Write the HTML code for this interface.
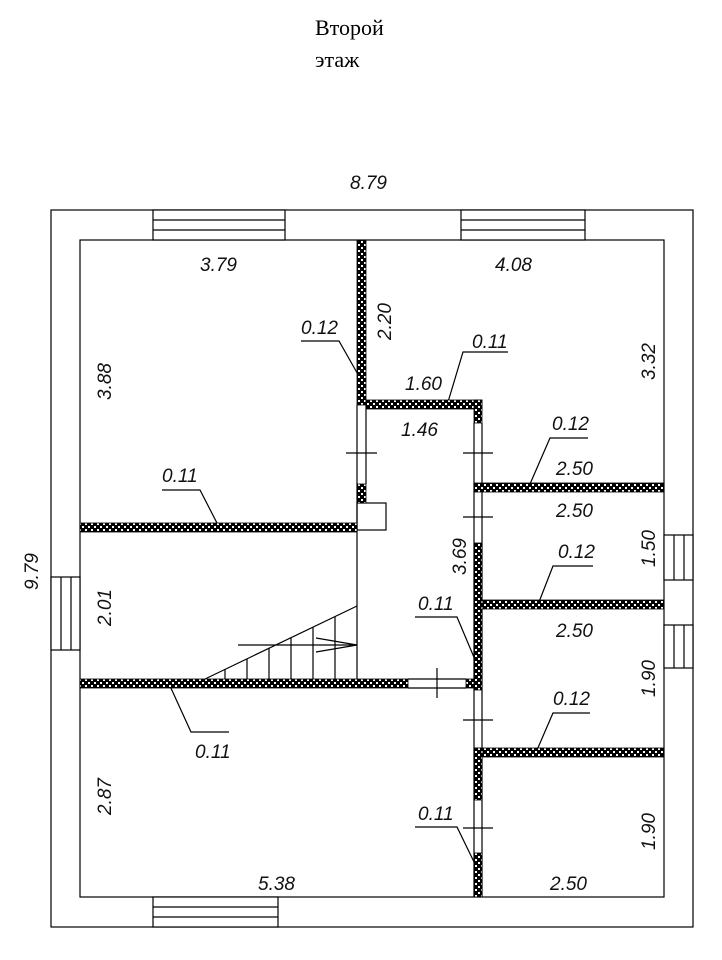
<!DOCTYPE html>
<html><head><meta charset="utf-8"><style>
body{margin:0;background:#fff}
svg{display:block}
.t{font-family:"Liberation Sans",sans-serif;font-style:italic;font-size:19px;fill:#111}
.s{font-family:"Liberation Serif",serif;font-size:22px;fill:#000}
</style></head><body>
<svg width="722" height="960" viewBox="0 0 722 960" xmlns="http://www.w3.org/2000/svg">
<defs>
<pattern id="ck" width="6" height="6" patternUnits="userSpaceOnUse">
<rect width="6" height="6" fill="#000"/>
<rect x="1" y="1" width="2" height="2" fill="#fff"/>
<rect x="4" y="4" width="2" height="2" fill="#fff"/>
</pattern>
</defs>
<text class="s" x="315" y="35">Второй</text>
<text class="s" x="315" y="67">этаж</text>
<g fill="none" stroke="#000" stroke-width="1.2">
<rect x="51" y="210" width="642" height="717"/>
<rect x="80" y="240" width="584" height="657"/>
<rect x="153" y="210" width="132" height="30" fill="#fff"/>
<line x1="153" y1="220" x2="285" y2="220"/><line x1="153" y1="230" x2="285" y2="230"/>
<rect x="461" y="210" width="124" height="30" fill="#fff"/>
<line x1="461" y1="220" x2="585" y2="220"/><line x1="461" y1="230" x2="585" y2="230"/>
<rect x="153" y="897" width="125" height="30" fill="#fff"/>
<line x1="153" y1="907" x2="278" y2="907"/><line x1="153" y1="917" x2="278" y2="917"/>
<rect x="51" y="577" width="29" height="73" fill="#fff"/>
<line x1="61" y1="577" x2="61" y2="650"/><line x1="71" y1="577" x2="71" y2="650"/>
<rect x="664" y="535" width="29" height="45" fill="#fff"/>
<line x1="674" y1="535" x2="674" y2="580"/><line x1="684" y1="535" x2="684" y2="580"/>
<rect x="664" y="625" width="29" height="43" fill="#fff"/>
<line x1="674" y1="625" x2="674" y2="668"/><line x1="684" y1="625" x2="684" y2="668"/>
<line x1="357" y1="405" x2="357" y2="679"/><line x1="366" y1="405" x2="366" y2="484"/>
<rect x="357" y="503" width="29" height="27"/>
<line x1="474" y1="423" x2="474" y2="897"/><line x1="482" y1="423" x2="482" y2="897"/>
<line x1="408" y1="679" x2="466" y2="679"/><line x1="408" y1="688" x2="466" y2="688"/>
<line x1="346" y1="453" x2="377" y2="453"/>
<line x1="463" y1="453" x2="493" y2="453"/>
<line x1="463" y1="517" x2="493" y2="517"/>
<line x1="437" y1="668" x2="437" y2="698"/>
<line x1="463" y1="720" x2="493" y2="720"/>
<line x1="463" y1="828" x2="493" y2="828"/>
<line x1="205" y1="679" x2="357" y2="606"/>
<line x1="225" y1="669" x2="225" y2="679"/><line x1="247" y1="659" x2="247" y2="679"/>
<line x1="269" y1="648" x2="269" y2="679"/><line x1="291" y1="638" x2="291" y2="679"/>
<line x1="313" y1="627" x2="313" y2="679"/><line x1="335" y1="617" x2="335" y2="679"/>
<line x1="238" y1="645" x2="357" y2="645"/>
<polyline points="316,638 357,645 316,652"/>
<polyline points="301,341 339,341 360,378"/>
<polyline points="508,352 463,352 448,402"/>
<polyline points="588,438 550,438 530,484"/>
<polyline points="593,566 553,566 539,602"/>
<polyline points="590,713 553,713 537,750"/>
<polyline points="162,490 200,490 218,525"/>
<polyline points="415,617 457,617 476,662"/>
<polyline points="415,827 457,827 476,866"/>
<polyline points="229,732 191,732 170,686"/>
</g>
<g fill="url(#ck)" stroke="#000" stroke-width="0.8">
<rect x="357" y="240" width="9" height="165"/>
<rect x="357" y="484" width="9" height="19"/>
<rect x="366" y="400" width="116" height="9"/>
<rect x="474" y="400" width="8" height="23"/>
<rect x="474" y="483" width="190" height="9"/>
<rect x="482" y="600" width="182" height="9"/>
<rect x="474" y="543" width="8" height="147"/>
<rect x="474" y="748" width="190" height="9"/>
<rect x="474" y="748" width="8" height="52"/>
<rect x="474" y="853" width="8" height="44"/>
<rect x="80" y="523" width="277" height="9"/>
<rect x="80" y="679" width="328" height="9"/>
<rect x="466" y="679" width="8" height="9"/>
</g>
<g class="t">
<text x="350" y="189">8.79</text>
<text x="200" y="271">3.79</text>
<text x="495" y="271">4.08</text>
<text x="301" y="334">0.12</text>
<text x="472" y="348">0.11</text>
<text x="405" y="390">1.60</text>
<text x="401" y="436">1.46</text>
<text x="552" y="430">0.12</text>
<text x="556" y="475">2.50</text>
<text x="556" y="517">2.50</text>
<text x="558" y="558">0.12</text>
<text x="556" y="637">2.50</text>
<text x="553" y="705">0.12</text>
<text x="162" y="482">0.11</text>
<text x="418" y="610">0.11</text>
<text x="195" y="758">0.11</text>
<text x="418" y="820">0.11</text>
<text x="258" y="890">5.38</text>
<text x="550" y="890">2.50</text>
<text transform="translate(391,340) rotate(-90)">2.20</text>
<text transform="translate(655,380) rotate(-90)">3.32</text>
<text transform="translate(111,400) rotate(-90)">3.88</text>
<text transform="translate(111,626) rotate(-90)">2.01</text>
<text transform="translate(111,815) rotate(-90)">2.87</text>
<text transform="translate(466,575) rotate(-90)">3.69</text>
<text transform="translate(655,567) rotate(-90)">1.50</text>
<text transform="translate(655,697) rotate(-90)">1.90</text>
<text transform="translate(655,850) rotate(-90)">1.90</text>
<text transform="translate(38,590) rotate(-90)">9.79</text>
</g>
</svg>
</body></html>
